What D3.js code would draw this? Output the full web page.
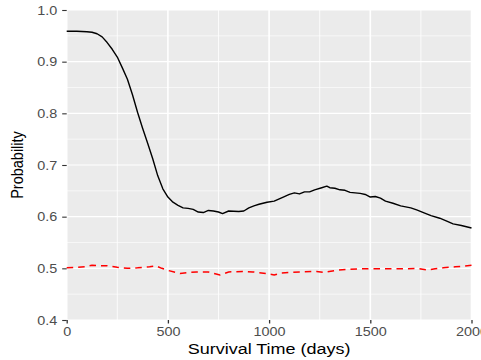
<!DOCTYPE html>
<html>
<head>
<meta charset="utf-8">
<script src="https://cdn.jsdelivr.net/npm/d3@7"></script>
<style>
  html, body { margin: 0; padding: 0; background: #ffffff; }
  svg { display: block; }
  text { font-family: "Liberation Sans", Arial, Helvetica, sans-serif; }
</style>
</head>
<body>
<div id="chart"></div>
<script>
// ---- data ----
const solidDays = [0, 50, 100, 125, 150, 175, 200, 225, 250, 275, 300, 325, 350, 375, 400, 425, 450, 475, 500, 525, 550, 575, 600, 625, 650, 675, 700, 725, 750, 770, 800, 850, 875, 900, 925, 950, 990, 1025, 1070, 1100, 1125, 1150, 1175, 1200, 1225, 1260, 1285, 1300, 1325, 1350, 1375, 1400, 1450, 1475, 1500, 1525, 1550, 1575, 1612, 1650, 1700, 1729, 1775, 1800, 1843, 1875, 1909, 1950, 2000];
const solidProb = [0.959, 0.959, 0.958, 0.957, 0.954, 0.948, 0.937, 0.924, 0.909, 0.888, 0.866, 0.836, 0.802, 0.771, 0.742, 0.712, 0.679, 0.654, 0.638, 0.628, 0.622, 0.617, 0.616, 0.614, 0.609, 0.608, 0.612, 0.611, 0.609, 0.606, 0.611, 0.610, 0.611, 0.617, 0.621, 0.624, 0.628, 0.630, 0.638, 0.643, 0.646, 0.644, 0.648, 0.648, 0.652, 0.656, 0.659, 0.656, 0.655, 0.652, 0.651, 0.647, 0.645, 0.643, 0.638, 0.639, 0.636, 0.630, 0.626, 0.621, 0.617, 0.613, 0.606, 0.602, 0.597, 0.592, 0.586, 0.583, 0.578];

const dashedDays = [0, 50, 90, 125, 160, 200, 250, 300, 350, 410, 440, 470, 500, 540, 560, 600, 640, 700, 757, 800, 870, 920, 988, 1025, 1060, 1100, 1150, 1235, 1270, 1330, 1384, 1450, 1500, 1600, 1660, 1730, 1780, 1820, 1860, 1920, 1960, 2000];
const dashedProb = [0.501, 0.502, 0.503, 0.506, 0.505, 0.505, 0.502, 0.500, 0.501, 0.503, 0.505, 0.500, 0.496, 0.492, 0.490, 0.492, 0.493, 0.493, 0.487, 0.493, 0.494, 0.493, 0.490, 0.487, 0.491, 0.492, 0.493, 0.494, 0.492, 0.496, 0.498, 0.499, 0.499, 0.499, 0.499, 0.500, 0.497, 0.499, 0.501, 0.503, 0.504, 0.506];

const xMajorTicks = [0, 500, 1000, 1500, 2000];
const xMinorTicks = [250, 750, 1250, 1750];
const yMajorTicks = [0.4, 0.5, 0.6, 0.7, 0.8, 0.9, 1.0];
const yMinorTicks = [0.45, 0.55, 0.65, 0.75, 0.85, 0.95];
const xTitle = "Survival Time (days)";
const yTitle = "Probability";

// ---- layout ----
const W = 481, H = 360;
const panel = { left: 66.7, right: 471.5, top: 10, bottom: 320 };
const SX = 1.2; // horizontal stretch of glyphs in the reference

const svg = d3.select("#chart").append("svg")
  .attr("width", W).attr("height", H);

const x = d3.scaleLinear().domain([0, 2000]).range([panel.left, panel.right]);
const y = d3.scaleLinear().domain([0.4, 1.0]).range([panel.bottom, panel.top]);

// panel background
svg.append("rect")
  .attr("x", panel.left).attr("y", panel.top)
  .attr("width", panel.right - panel.left)
  .attr("height", panel.bottom - panel.top)
  .attr("fill", "#EBEBEB");

const grid = svg.append("g");
// minor grid
grid.selectAll("line.vmin").data(xMinorTicks).join("line")
  .attr("x1", d => x(d)).attr("x2", d => x(d))
  .attr("y1", panel.top).attr("y2", panel.bottom)
  .attr("stroke", "#fff").attr("stroke-width", 0.8);
grid.selectAll("line.hmin").data(yMinorTicks).join("line")
  .attr("y1", d => y(d)).attr("y2", d => y(d))
  .attr("x1", panel.left).attr("x2", panel.right)
  .attr("stroke", "#fff").attr("stroke-width", 0.6);
// major grid
grid.selectAll("line.vmaj").data(xMajorTicks).join("line")
  .attr("x1", d => x(d)).attr("x2", d => x(d))
  .attr("y1", panel.top).attr("y2", panel.bottom)
  .attr("stroke", "#fff").attr("stroke-width", 1.6);
grid.selectAll("line.hmaj").data(yMajorTicks).join("line")
  .attr("y1", d => y(d)).attr("y2", d => y(d))
  .attr("x1", panel.left).attr("x2", panel.right)
  .attr("stroke", "#fff").attr("stroke-width", 1.2);

// lines
const line = d3.line().x(d => x(d[0])).y(d => y(d[1]));
svg.append("path")
  .datum(dashedDays.map((d, i) => [d, dashedProb[i]]))
  .attr("d", line)
  .attr("fill", "none").attr("stroke", "#FF0000")
  .attr("stroke-width", 1.5)
  .attr("stroke-dasharray", "6.5,5");
svg.append("path")
  .datum(solidDays.map((d, i) => [d, solidProb[i]]))
  .attr("d", line)
  .attr("fill", "none").attr("stroke", "#000")
  .attr("stroke-width", 1.4)
  .attr("stroke-linejoin", "round");

// axes
const yAxis = svg.append("g")
  .attr("transform", `translate(${panel.left},0)`)
  .call(d3.axisLeft(y).tickValues(yMajorTicks).tickFormat(d3.format(".1f")).tickSize(4.5).tickPadding(0));
yAxis.select(".domain").remove();
yAxis.selectAll(".tick line").attr("stroke", "#333333").attr("stroke-width", 1.1);
yAxis.selectAll(".tick text")
  .attr("x", null).attr("dy", null)
  .attr("transform", "translate(-9.5,4.3) scale(" + SX + ",1)")
  .attr("text-anchor", "end")
  .attr("font-size", "12px")
  .attr("fill", "#4D4D4D");

const xAxis = svg.append("g")
  .attr("transform", `translate(0,${panel.bottom})`)
  .call(d3.axisBottom(x).tickValues(xMajorTicks).tickFormat(d3.format("d")).tickSize(3.5).tickPadding(0));
xAxis.select(".domain").remove();
xAxis.selectAll(".tick line").attr("stroke", "#333333").attr("stroke-width", 1.3);
xAxis.selectAll(".tick text")
  .attr("y", null).attr("dy", null)
  .attr("transform", "translate(0,16) scale(" + SX + ",1)")
  .attr("text-anchor", "middle")
  .attr("font-size", "12px")
  .attr("fill", "#4D4D4D");

// titles
svg.append("text")
  .attr("transform", `translate(${(panel.left + panel.right) / 2},353.5) scale(${SX},1)`)
  .attr("text-anchor", "middle")
  .attr("font-size", "15px")
  .attr("fill", "#000")
  .text(xTitle);

svg.append("text")
  .attr("transform", `translate(23.3,${(panel.top + panel.bottom) / 2}) rotate(-90) scale(1,${SX})`)
  .attr("text-anchor", "middle")
  .attr("font-size", "14.5px")
  .attr("fill", "#000")
  .text(yTitle);
</script>
</body>
</html>
